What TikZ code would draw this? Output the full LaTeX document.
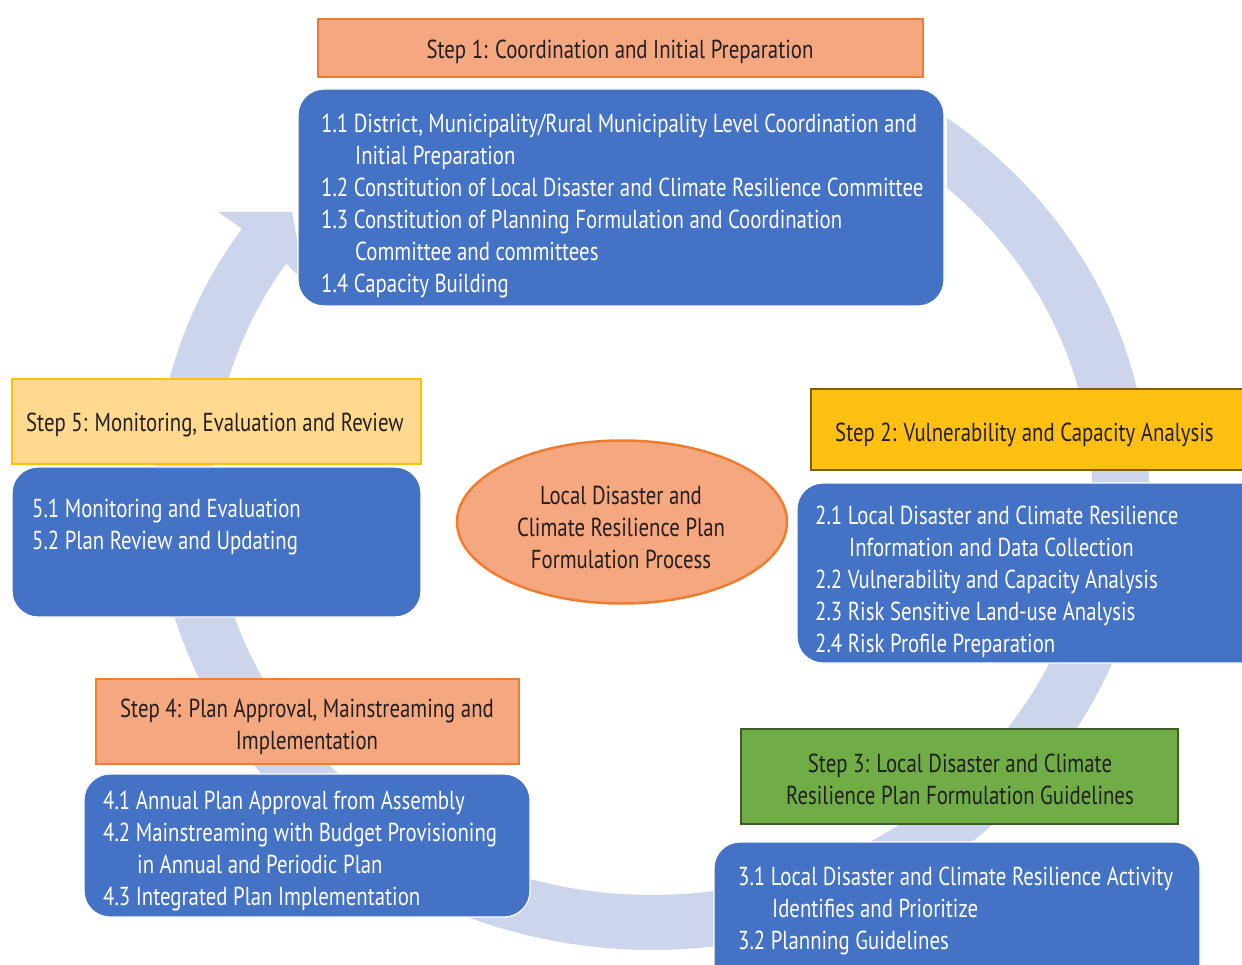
\documentclass[tikz,border=0pt]{standalone}
\usepackage{fontspec}
\setmainfont{PT Sans}[FakeStretch=0.80]
\usetikzlibrary{shapes.geometric}
\definecolor{bluebox}{HTML}{4472C4}
\definecolor{bandcol}{HTML}{CCD5EB}
\definecolor{salmon}{HTML}{F5A77F}
\definecolor{orangeline}{HTML}{ED7D31}
\definecolor{goldfill}{HTML}{FFC012}
\definecolor{goldline}{HTML}{7F6000}
\definecolor{grnfill}{HTML}{70AD47}
\definecolor{grnline}{HTML}{3B5E25}
\definecolor{lightgold}{HTML}{FFD98F}
\definecolor{goldborder}{HTML}{FFC000}
\definecolor{txtdark}{HTML}{231F20}
\newcommand\txtblock[1]{\begin{tabular}[t]{@{}l@{}}#1\end{tabular}}
\newcommand\ctrblock[1]{\begin{tabular}[t]{@{}c@{}}#1\end{tabular}}
\newcommand\ind{\hspace*{34pt}}
\begin{document}
\begin{tikzpicture}[x=1pt,y=-1pt,
  font=\fontsize{26}{32}\selectfont,
  bluebody/.style={fill=bluebox, draw=white, line width=1.2pt, rounded corners=26pt},
  hdrbox/.style={line width=2pt},
  bodytext/.style={anchor=base west, inner sep=0pt, text=white},
  hdrtext/.style={inner sep=0pt, text=txtdark}]
\useasboundingbox (0,0) rectangle (1242,965);
\clip (0,0) rectangle (1242,965);
\fill[white] (0,0) rectangle (1242,965);
% circular arrow band
\fill[bandcol] plot[domain=-53.6:214.4, samples=160] ({652+497*cos(\x)},{489+461*sin(\x)})
  -- (218,212) -- (292,212) -- (305,282)
  -- plot[domain=213.7:-47.9, samples=160] ({652+440*cos(\x)},{489+406*sin(\x)}) -- cycle;
% step 1
\draw[hdrbox, fill=salmon, draw=orangeline] (318,19) rectangle (923,77);
\draw[bluebody] (298,89) rectangle (944,306);
% step 2
\draw[hdrbox, fill=goldfill, draw=goldline] (811,389) rectangle (1262,470);
\draw[bluebody] (797,483) rectangle (1272,663);
% step 3
\draw[hdrbox, line width=2.5pt, fill=grnfill, draw=grnline] (741,729) rectangle (1178,824);
\draw[bluebody] (714,842) rectangle (1200,1010);
% step 4
\draw[hdrbox, fill=salmon, draw=orangeline] (96,679) rectangle (519,764);
\draw[bluebody] (84,774) rectangle (530,917);
% step 5
\draw[hdrbox, fill=lightgold, draw=goldborder] (12,379) rectangle (421,464);
\draw[bluebody] (12,467) rectangle (421,617);
% centre
\node[ellipse, fill=salmon, draw=orangeline, line width=2.5pt, minimum width=330pt, minimum height=163pt, inner sep=0pt] (core) at (622,522) {};
\node[hdrtext, anchor=base] (coretext) at (621,504) {\ctrblock{Local Disaster and\\ Climate Resilience Plan\\ Formulation Process}};
% headers
\node[hdrtext, anchor=base] (h1) at (620,59) {Step 1: Coordination and Initial Preparation};
\node[hdrtext, anchor=base west] (h2) at (835,441) {Step 2: Vulnerability and Capacity Analysis};
\node[hdrtext, anchor=base] (h3) at (960,772) {\ctrblock{Step 3: Local Disaster and Climate\\ Resilience Plan Formulation Guidelines}};
\node[hdrtext, anchor=base] (h4) at (307,717) {\ctrblock{Step 4: Plan Approval, Mainstreaming and\\ Implementation}};
\node[hdrtext, anchor=base west] (h5) at (26,431) {Step 5: Monitoring, Evaluation and Review};
% bodies
\node[bodytext] (t1) at (321,133) {\txtblock{1.1 District, Municipality/Rural Municipality Level Coordination and\\ \ind Initial Preparation\\ 1.2 Constitution of Local Disaster and Climate Resilience Committee\\ 1.3 Constitution of Planning Formulation and Coordination\\ \ind Committee and committees\\ 1.4 Capacity Building}};
\node[bodytext] (t2) at (815,524) {\txtblock{2.1 Local Disaster and Climate Resilience\\ \ind Information and Data Collection\\ 2.2 Vulnerability and Capacity Analysis\\ 2.3 Risk Sensitive Land-use Analysis\\ 2.4 Risk Profile Preparation}};
\node[bodytext] (t3) at (738,885) {\txtblock{3.1 Local Disaster and Climate Resilience Activity\\ \ind Identifies and Prioritize\\ 3.2 Planning Guidelines}};
\node[bodytext] (t4) at (103,809) {\txtblock{4.1 Annual Plan Approval from Assembly\\ 4.2 Mainstreaming with Budget Provisioning\\ \ind in Annual and Periodic Plan\\ 4.3 Integrated Plan Implementation}};
\node[bodytext] (t5) at (32,517) {\txtblock{5.1 Monitoring and Evaluation\\ 5.2 Plan Review and Updating}};
\end{tikzpicture}
\end{document}
